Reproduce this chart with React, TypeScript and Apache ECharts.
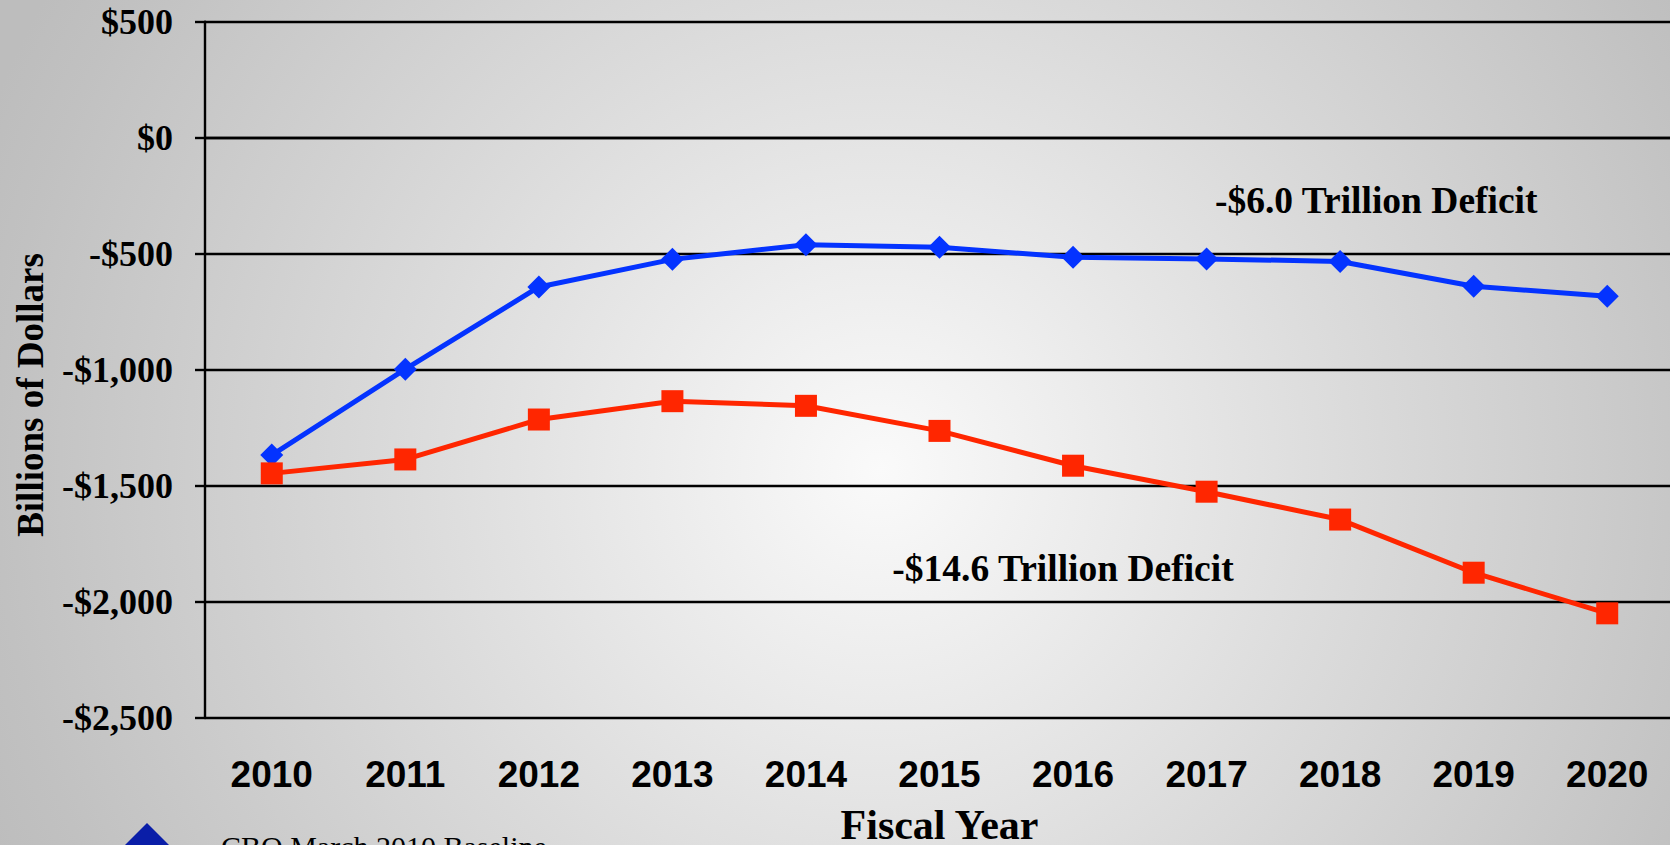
import React, { useEffect, useRef } from "react";
import * as echarts from "echarts";

const years = ["2010", "2011", "2012", "2013", "2014", "2015", "2016", "2017", "2018", "2019", "2020"];
const baselineDeficit = [-1367, -997, -643, -524, -461, -472, -515, -522, -533, -640, -683];
const budgetDeficit = [-1446, -1386, -1214, -1135, -1155, -1263, -1413, -1525, -1645, -1874, -2049];
const seriesNames = ["CBO March 2010 Baseline", "President's Budget"];
const annotationTexts = ["-$6.0 Trillion Deficit", "-$14.6 Trillion Deficit"];
const yAxisTitle = "Billions of Dollars";
const xAxisTitle = "Fiscal Year";
const legendText = "CBO March 2010 Baseline";

const SERIF = "'Liberation Serif', 'Times New Roman', serif";
const SANS = "'Liberation Sans', Arial, sans-serif";

function fmtDollars(v: number): string {
  const abs = Math.abs(v).toLocaleString("en-US");
  return (v < 0 ? "-$" : "$") + abs;
}

export default function App() {
  const ref = useRef<HTMLDivElement>(null);
  useEffect(() => {
    if (!ref.current) return;
    const chart = echarts.init(ref.current, undefined, { renderer: "svg" });
    const bg = new echarts.graphic.RadialGradient(
      880,
      470,
      960,
      [
        { offset: 0, color: "#fafafa" },
        { offset: 0.49, color: "#dbdbdb" },
        { offset: 0.92, color: "#c1c1c1" },
        { offset: 1, color: "#bdbdbd" },
      ],
      true
    );
    chart.setOption({
      animation: false,
      backgroundColor: "transparent",
      grid: {
        left: 205,
        right: -4,
        top: 21.7,
        bottom: 127,
        containLabel: false,
        outerBoundsMode: "none",
      },
      xAxis: {
        type: "category",
        data: years,
        boundaryGap: true,
        axisLine: { show: true, lineStyle: { color: "#000", width: 2.4 } },
        axisTick: { show: false },
        axisLabel: {
          margin: 38,
          color: "#000",
          fontFamily: SANS,
          fontWeight: "bold",
          fontSize: 37,
        },
        name: xAxisTitle,
        nameLocation: "middle",
        nameGap: 88,
        nameTextStyle: {
          color: "#000",
          fontFamily: SERIF,
          fontWeight: "bold",
          fontSize: 42,
          lineHeight: 37,
        },
      },
      yAxis: {
        type: "value",
        min: -2500,
        max: 500,
        interval: 500,
        axisLine: { show: true, lineStyle: { color: "#000", width: 2.4 } },
        axisTick: { show: true, length: 10, lineStyle: { color: "#000", width: 2.4 } },
        splitLine: { show: true, lineStyle: { color: "#000", width: 2.4 } },
        axisLabel: {
          margin: 32,
          color: "#000",
          fontFamily: SERIF,
          fontWeight: "bold",
          fontSize: 36,
          formatter: (v: number) => fmtDollars(v),
        },
      },
      series: [
        {
          name: seriesNames[0],
          type: "line",
          data: baselineDeficit,
          symbol: "diamond",
          symbolSize: 23,
          lineStyle: { color: "#0433ff", width: 5 },
          itemStyle: { color: "#0433ff" },
          z: 3,
        },
        {
          name: seriesNames[1],
          type: "line",
          data: budgetDeficit,
          symbol: "rect",
          symbolSize: 22,
          lineStyle: { color: "#ff2600", width: 5 },
          itemStyle: { color: "#ff2600" },
          z: 3,
        },
      ],
      graphic: [
        {
          type: "rect",
          z: -100,
          silent: true,
          shape: { x: 0, y: 0, width: 1670, height: 845 },
          style: { fill: bg },
        },
        {
          type: "text",
          x: 30,
          y: 395,
          rotation: Math.PI / 2,
          style: {
            text: yAxisTitle,
            fill: "#000",
            font: `bold 37px ${SERIF}`,
            textAlign: "center",
            textVerticalAlign: "middle",
          },
        },
        {
          type: "text",
          x: 1215,
          y: 200,
          style: {
            text: annotationTexts[0],
            fill: "#000",
            font: `bold 37.5px ${SERIF}`,
            textAlign: "left",
            textVerticalAlign: "middle",
          },
        },
        {
          type: "text",
          x: 1063,
          y: 568,
          style: {
            text: annotationTexts[1],
            fill: "#000",
            font: `bold 37.5px ${SERIF}`,
            textAlign: "center",
            textVerticalAlign: "middle",
          },
        },
        {
          type: "polygon",
          shape: { points: [[147, 823], [172, 848], [147, 873], [122, 848]] },
          style: { fill: "#0a1ea8" },
        },
        {
          type: "text",
          x: 221,
          y: 846,
          style: {
            text: legendText,
            fill: "#000",
            font: `30px ${SERIF}`,
            textAlign: "left",
            textVerticalAlign: "middle",
          },
        },
      ],
    });
    return () => chart.dispose();
  }, []);
  return (
    <div
      ref={ref}
      style={{ position: "absolute", left: 0, top: 0, width: 1670, height: 845 }}
    />
  );
}
